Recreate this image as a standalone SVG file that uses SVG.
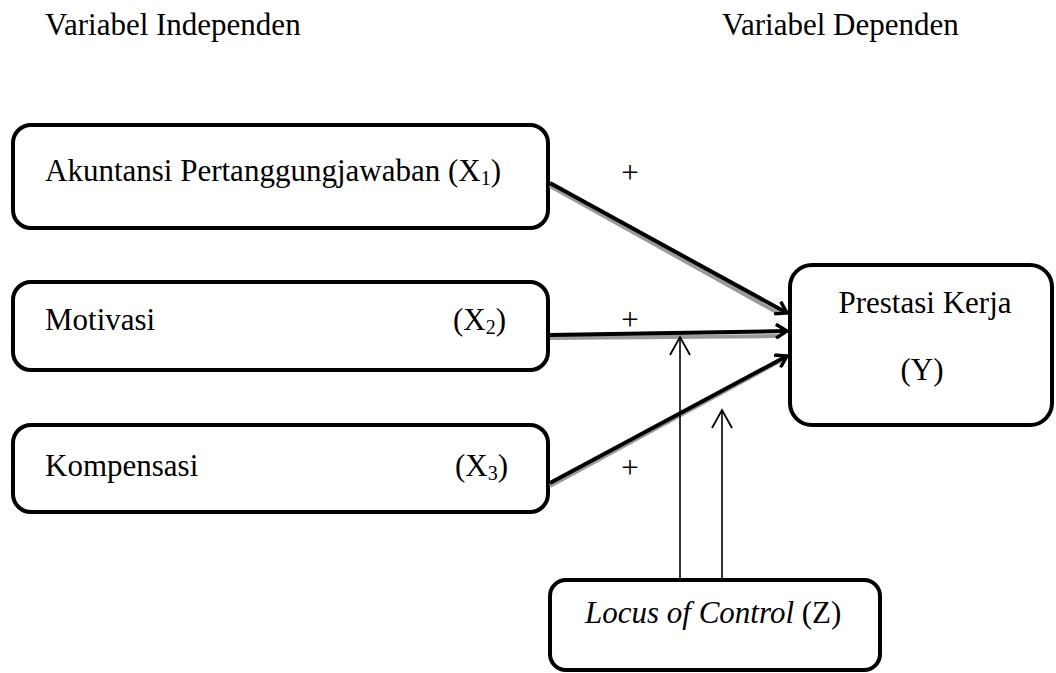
<svg xmlns="http://www.w3.org/2000/svg" width="1056" height="673" viewBox="0 0 1056 673">
<style>
.box{fill:#fff;stroke:#000;stroke-width:4}
.shadow{stroke:#9a9a9a;stroke-width:4;fill:none}
.main{stroke:#000;stroke-width:4;fill:none}
.thin{stroke:#000;stroke-width:1.6;fill:none}
</style>
<defs>
<marker id="ah" markerWidth="14" markerHeight="16" refX="12" refY="8" orient="auto" markerUnits="userSpaceOnUse" viewBox="0 0 14 16">
<path d="M1,1 L12,8 L1,15" fill="none" stroke="#000" stroke-width="3.4"/>
</marker>
<marker id="ahs" markerWidth="22" markerHeight="22" refX="20" refY="11" orient="auto" markerUnits="userSpaceOnUse" viewBox="0 0 22 22">
<path d="M2,1 L20,11 L2,21" fill="none" stroke="#000" stroke-width="1.8"/>
</marker>
</defs>
<g font-family="'Liberation Serif', 'Times New Roman', serif" font-size="31" fill="#000">
<text x="45" y="35">Variabel Independen</text>
<text x="722" y="35">Variabel Dependen</text>
<g id="x1"><rect class="box" x="13" y="125" width="535" height="103" rx="18"/>
<text x="45" y="181">Akuntansi Pertanggungjawaban (X<tspan font-size="20" dy="4">1</tspan><tspan dy="-4">)</tspan></text></g>
<g id="x2"><rect class="box" x="13" y="282" width="535" height="88" rx="18"/>
<text x="45" y="330">Motivasi</text><text x="453" y="330">(X<tspan font-size="20" dy="4">2</tspan><tspan dy="-4">)</tspan></text></g>
<g id="x3"><rect class="box" x="13" y="425" width="535" height="87" rx="18"/>
<text x="45" y="476">Kompensasi</text><text x="455" y="476">(X<tspan font-size="20" dy="4">3</tspan><tspan dy="-4">)</tspan></text></g>
<g id="y"><rect class="box" x="790" y="265" width="262" height="160" rx="22"/>
<text x="925" y="313" text-anchor="middle">Prestasi Kerja</text><text x="922" y="380" text-anchor="middle">(Y)</text></g>
<g id="z"><rect class="box" x="550" y="580" width="330" height="90" rx="16"/>
<text x="585" y="623"><tspan font-style="italic">Locus of Control</tspan> (Z)</text></g>
<g id="connectors">
<line class="shadow" x1="550" y1="186" x2="780" y2="314"/>
<line class="shadow" x1="550" y1="338" x2="780" y2="336"/>
<line class="shadow" x1="550" y1="486" x2="780" y2="361"/>
<line class="main" x1="550" y1="183" x2="787" y2="313" marker-end="url(#ah)"/>
<line class="main" x1="550" y1="335" x2="787" y2="331" marker-end="url(#ah)"/>
<line class="main" x1="550" y1="483" x2="787" y2="356" marker-end="url(#ah)"/>
<line class="thin" x1="680" y1="580" x2="680" y2="337" marker-end="url(#ahs)"/>
<line class="thin" x1="722" y1="580" x2="722" y2="410" marker-end="url(#ahs)"/>
</g>
<text x="630" y="183" text-anchor="middle">+</text>
<text x="630" y="330" text-anchor="middle">+</text>
<text x="630" y="478" text-anchor="middle">+</text>
</g>
</svg>
